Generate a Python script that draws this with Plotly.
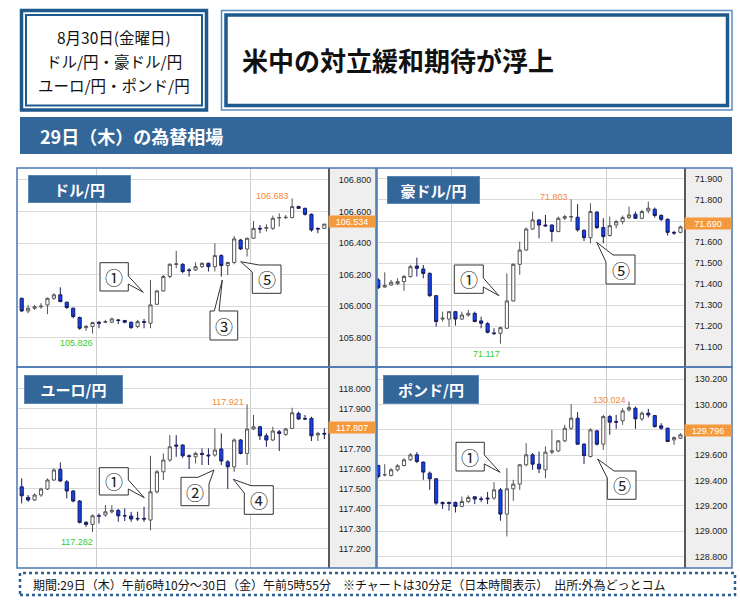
import plotly.graph_objects as go

W, H = 740, 604

# ---------------- data (30-minute bars, 29日 06:00 → 30日 05:30) ----------------
bar_index = list(range(48))

usd_open = [106.049, 105.969, 105.986, 105.995, 106.007, 106.049, 106.071, 106.024, 105.986, 105.927,
            105.863, 105.870, 105.897, 105.897, 105.897, 105.912, 105.908, 105.897, 105.870, 105.901,
            105.891, 106.011, 106.096, 106.187, 106.265, 106.265, 106.229, 106.229, 106.250, 106.271,
            106.250, 106.320, 106.257, 106.276, 106.419, 106.362, 106.430, 106.493, 106.493, 106.493,
            106.559, 106.561, 106.561, 106.631, 106.620, 106.582, 106.493, 106.493]
usd_high = [106.054, 106.007, 106.007, 106.018, 106.054, 106.081, 106.119, 106.028, 105.990, 105.933,
            105.880, 105.901, 105.906, 105.912, 105.927, 105.918, 105.912, 105.901, 105.912, 105.918,
            106.166, 106.102, 106.197, 106.271, 106.350, 106.271, 106.240, 106.278, 106.278, 106.276,
            106.398, 106.328, 106.282, 106.445, 106.426, 106.434, 106.540, 106.514, 106.519, 106.574,
            106.588, 106.578, 106.683, 106.637, 106.624, 106.588, 106.498, 106.514]
usd_low = [105.961, 105.954, 105.975, 105.982, 105.948, 106.039, 106.024, 105.982, 105.923, 105.849,
           105.842, 105.826, 105.859, 105.891, 105.891, 105.885, 105.891, 105.855, 105.859, 105.859,
           105.859, 106.007, 106.092, 106.176, 106.240, 106.208, 106.187, 106.223, 106.240, 106.219,
           106.219, 106.187, 106.197, 106.265, 106.356, 106.314, 106.426, 106.462, 106.472, 106.483,
           106.504, 106.553, 106.557, 106.616, 106.574, 106.472, 106.462, 106.489]
usd_close = [105.969, 105.986, 105.995, 105.999, 106.049, 106.071, 106.028, 105.990, 105.933, 105.859,
             105.870, 105.895, 105.891, 105.901, 105.918, 105.908, 105.897, 105.863, 105.901, 105.897,
             106.007, 106.096, 106.187, 106.265, 106.267, 106.219, 106.225, 106.250, 106.271, 106.250,
             106.320, 106.257, 106.276, 106.426, 106.362, 106.430, 106.493, 106.489, 106.498, 106.557,
             106.561, 106.563, 106.631, 106.620, 106.582, 106.483, 106.489, 106.520]

aud_open = [71.420, 71.386, 71.396, 71.402, 71.412, 71.436, 71.486, 71.472, 71.451, 71.345,
            71.234, 71.234, 71.269, 71.234, 71.253, 71.261, 71.225, 71.212, 71.168, 71.166,
            71.190, 71.320, 71.494, 71.562, 71.662, 71.705, 71.681, 71.681, 71.650, 71.713,
            71.719, 71.718, 71.655, 71.621, 71.742, 71.669, 71.631, 71.681, 71.697, 71.716,
            71.732, 71.713, 71.748, 71.756, 71.726, 71.708, 71.646, 71.646]
aud_high = [71.428, 71.456, 71.420, 71.428, 71.444, 71.491, 71.526, 71.491, 71.456, 71.348,
            71.269, 71.272, 71.272, 71.269, 71.277, 71.269, 71.245, 71.219, 71.190, 71.198,
            71.451, 71.499, 71.602, 71.669, 71.745, 71.710, 71.729, 71.684, 71.721, 71.729,
            71.803, 71.780, 71.662, 71.784, 71.748, 71.713, 71.721, 71.705, 71.726, 71.768,
            71.745, 71.753, 71.792, 71.764, 71.732, 71.713, 71.653, 71.678]
aud_low = [71.377, 71.383, 71.393, 71.396, 71.368, 71.431, 71.436, 71.428, 71.340, 71.198,
           71.222, 71.198, 71.203, 71.230, 71.245, 71.219, 71.190, 71.166, 71.158, 71.117,
           71.187, 71.317, 71.444, 71.558, 71.658, 71.618, 71.673, 71.602, 71.646, 71.705,
           71.697, 71.650, 71.605, 71.594, 71.662, 71.594, 71.626, 71.665, 71.684, 71.710,
           71.710, 71.708, 71.737, 71.716, 71.700, 71.631, 71.634, 71.642]
aud_close = [71.383, 71.393, 71.409, 71.412, 71.436, 71.483, 71.475, 71.451, 71.345, 71.222,
             71.238, 71.269, 71.234, 71.253, 71.261, 71.222, 71.214, 71.171, 71.165, 71.193,
             71.320, 71.494, 71.562, 71.662, 71.705, 71.681, 71.677, 71.650, 71.713, 71.721,
             71.721, 71.658, 71.621, 71.745, 71.669, 71.626, 71.678, 71.697, 71.716, 71.729,
             71.713, 71.745, 71.761, 71.726, 71.708, 71.646, 71.643, 71.672]

eur_open = [117.508, 117.455, 117.442, 117.467, 117.497, 117.542, 117.595, 117.533, 117.487, 117.437,
            117.330, 117.320, 117.363, 117.367, 117.383, 117.390, 117.363, 117.362, 117.350, 117.350,
            117.342, 117.483, 117.583, 117.642, 117.717, 117.717, 117.663, 117.658, 117.675, 117.667,
            117.667, 117.697, 117.633, 117.608, 117.742, 117.675, 117.797, 117.808, 117.763, 117.742,
            117.783, 117.770, 117.800, 117.875, 117.850, 117.850, 117.767, 117.775]
eur_high = [117.550, 117.467, 117.475, 117.503, 117.550, 117.600, 117.630, 117.542, 117.492, 117.442,
            117.337, 117.370, 117.375, 117.417, 117.417, 117.397, 117.400, 117.383, 117.383, 117.408,
            117.663, 117.592, 117.675, 117.767, 117.767, 117.720, 117.670, 117.683, 117.700, 117.700,
            117.800, 117.775, 117.642, 117.750, 117.747, 117.921, 117.867, 117.813, 117.775, 117.808,
            117.792, 117.803, 117.903, 117.883, 117.867, 117.858, 117.783, 117.800]
eur_low = [117.425, 117.433, 117.437, 117.458, 117.492, 117.537, 117.533, 117.450, 117.430, 117.325,
           117.308, 117.282, 117.325, 117.358, 117.375, 117.333, 117.337, 117.333, 117.337, 117.333,
           117.290, 117.475, 117.542, 117.633, 117.658, 117.653, 117.597, 117.625, 117.617, 117.617,
           117.658, 117.617, 117.497, 117.583, 117.670, 117.617, 117.792, 117.742, 117.708, 117.737,
           117.687, 117.763, 117.797, 117.842, 117.842, 117.737, 117.737, 117.747]
eur_close = [117.463, 117.442, 117.467, 117.497, 117.542, 117.592, 117.537, 117.487, 117.437, 117.330,
             117.320, 117.363, 117.362, 117.383, 117.390, 117.363, 117.363, 117.347, 117.348, 117.347,
             117.483, 117.583, 117.642, 117.708, 117.712, 117.663, 117.660, 117.675, 117.670, 117.663,
             117.692, 117.637, 117.608, 117.742, 117.675, 117.797, 117.808, 117.763, 117.742, 117.787,
             117.775, 117.797, 117.878, 117.847, 117.847, 117.763, 117.775, 117.772]

gbp_open = [129.518, 129.445, 129.440, 129.484, 129.518, 129.563, 129.603, 129.545, 129.458, 129.413,
            129.226, 129.226, 129.226, 129.195, 129.234, 129.271, 129.255, 129.261, 129.261, 129.326,
            129.134, 129.334, 129.371, 129.524, 129.603, 129.529, 129.484, 129.624, 129.634, 129.713,
            129.813, 129.892, 129.687, 129.590, 129.792, 129.687, 129.905, 129.866, 129.871, 129.958,
            129.971, 129.887, 129.932, 129.913, 129.832, 129.813, 129.721, 129.734]
gbp_high = [129.524, 129.529, 129.497, 129.529, 129.576, 129.616, 129.624, 129.550, 129.471, 129.418,
            129.234, 129.234, 129.234, 129.274, 129.282, 129.274, 129.274, 129.308, 129.387, 129.340,
            129.497, 129.405, 129.529, 129.695, 129.616, 129.629, 129.669, 129.800, 129.721, 129.840,
            130.003, 129.940, 129.695, 129.813, 129.800, 129.918, 129.918, 129.918, 129.971, 130.024,
            129.984, 129.945, 129.966, 129.918, 129.853, 129.818, 129.747, 129.774]
gbp_low = [129.418, 129.432, 129.432, 129.471, 129.511, 129.555, 129.537, 129.405, 129.326, 129.208,
           129.176, 129.161, 129.147, 129.187, 129.221, 129.213, 129.229, 129.213, 129.247, 129.082,
           128.958, 129.239, 129.326, 129.511, 129.484, 129.458, 129.418, 129.608, 129.624, 129.703,
           129.800, 129.682, 129.529, 129.582, 129.676, 129.642, 129.761, 129.808, 129.840, 129.945,
           129.808, 129.871, 129.897, 129.818, 129.800, 129.703, 129.682, 129.729]
gbp_close = [129.432, 129.445, 129.484, 129.516, 129.563, 129.603, 129.550, 129.466, 129.413, 129.221,
             129.216, 129.218, 129.195, 129.234, 129.266, 129.253, 129.250, 129.255, 129.326, 129.134,
             129.334, 129.371, 129.524, 129.603, 129.529, 129.492, 129.624, 129.634, 129.713, 129.813,
             129.892, 129.687, 129.597, 129.800, 129.687, 129.905, 129.861, 129.861, 129.950, 129.976,
             129.887, 129.932, 129.918, 129.826, 129.813, 129.708, 129.740, 129.761]

# price-scale ticks; a blank label is one hidden under the current-price tag
usd_ticks = [105.8, 106.0, 106.2, 106.4, 106.6, 106.8]
usd_ticklabels = ["105.800", "106.000", "106.200", "106.400", "106.600", "106.800"]
aud_ticks = [71.1, 71.2, 71.3, 71.4, 71.5, 71.6, 71.7, 71.8, 71.9]
aud_ticklabels = ["71.100", "71.200", "71.300", "71.400", "71.500", "71.600", "", "71.800", "71.900"]
eur_ticks = [117.2, 117.3, 117.4, 117.5, 117.6, 117.7, 117.8, 117.9, 118.0]
eur_ticklabels = ["117.200", "117.300", "117.400", "117.500", "117.600", "117.700", "", "117.900", "118.000"]
gbp_ticks = [128.8, 129.0, 129.2, 129.4, 129.6, 129.8, 130.0, 130.2]
gbp_ticklabels = ["128.800", "129.000", "129.200", "129.400", "129.600", "", "130.000", "130.200"]

pair_names = ["ドル/円", "豪ドル/円", "ユーロ/円", "ポンド/円"]
last_prices = ["106.534", "71.690", "117.807", "129.796"]
high_marks = [(42, 106.683), (30, 71.803), (35, 117.921), (39, 130.024)]
low_marks = [(11, 105.826), (19, 71.117), (11, 117.282), None]

# ---------------- layout helpers ----------------
def X(p):
    return p / W


def Y(p):
    return 1 - p / H


FRAME = "#4a78b0"
BOXBLUE = "#336699"
JP = "Noto Sans CJK JP"

panels = [
    dict(o=usd_open, h=usd_high, l=usd_low, c=usd_close, ticks=usd_ticks, tl=usd_ticklabels,
         yr=[105.613, 106.876], xr=[-0.73, 47.57], grid=[11.69, 35.6],
         px=(17, 328, 376), py=(168, 367), lab=(79.5, 188.7, 101, 26)),
    dict(o=aud_open, h=aud_high, l=aud_low, c=aud_close, ticks=aud_ticks, tl=aud_ticklabels,
         yr=[71.006, 71.952], xr=[-0.2, 47.55], grid=[11.46, 35.42],
         px=(377, 684, 732), py=(168, 367), lab=(433.8, 190.3, 91, 26)),
    dict(o=eur_open, h=eur_high, l=eur_low, c=eur_close, ticks=eur_ticks, tl=eur_ticklabels,
         yr=[117.102, 118.107], xr=[-0.73, 47.57], grid=[11.69, 35.6],
         px=(17, 328, 376), py=(367, 568), lab=(73.5, 389, 97, 27)),
    dict(o=gbp_open, h=gbp_high, l=gbp_low, c=gbp_close, ticks=gbp_ticks, tl=gbp_ticklabels,
         yr=[128.708, 130.297], xr=[-0.2, 47.55], grid=[11.46, 35.42],
         px=(377, 684, 732), py=(367, 568), lab=(431, 389.5, 94, 27)),
]

fig = go.Figure()
shapes = []
annotations = []
layout_axes = {}

for k, p in enumerate(panels):
    n = "" if k == 0 else str(k + 1)
    xa, ya = "x" + n, "y" + n
    fig.add_trace(go.Candlestick(
        x=bar_index, open=p["o"], high=p["h"], low=p["l"], close=p["c"],
        xaxis=xa, yaxis=ya, showlegend=False, hoverinfo="skip",
        increasing=dict(fillcolor="#ffffff", line=dict(color="#555555", width=1)),
        decreasing=dict(fillcolor="#0d43f2", line=dict(color="#1c1c5c", width=1)),
        whiskerwidth=0,
    ))
    x0, x1, x2 = p["px"]
    y0, y1 = p["py"]
    layout_axes["xaxis" + n] = dict(
        domain=[X(x0), X(x1)], range=p["xr"], anchor=ya,
        tickvals=p["grid"], showticklabels=False, ticks="",
        showgrid=True, gridcolor="#cccccc", gridwidth=1,
        zeroline=False, showline=False, fixedrange=True,
        rangeslider=dict(visible=False))
    layout_axes["yaxis" + n] = dict(
        domain=[Y(y1), Y(y0)], range=p["yr"], anchor=xa, side="right",
        tickvals=p["ticks"], ticktext=p["tl"],
        showgrid=True, gridcolor="#d9d9d9", gridwidth=1,
        showline=True, linecolor="#5a5a5a", linewidth=2,
        ticks="outside", ticklen=7, tickcolor="rgba(0,0,0,0)",
        tickfont=dict(size=9, color="#222222", family="Liberation Sans"),
        zeroline=False, fixedrange=True)
    # grey price-scale area
    shapes.append(dict(type="rect", xref="paper", yref="paper",
                       x0=X(x1), x1=X(x2), y0=Y(y1), y1=Y(y0),
                       fillcolor="#efefef", line=dict(width=0), layer="below"))
    # panel frame
    shapes.append(dict(type="rect", xref="paper", yref="paper",
                       x0=X(x0), x1=X(x2), y0=Y(y1), y1=Y(y0),
                       fillcolor="rgba(0,0,0,0)", line=dict(color=FRAME, width=1.5), layer="above"))
    # pair label box
    cx, cy, bw, bh = p["lab"]
    annotations.append(dict(xref="paper", yref="paper", x=X(cx), y=Y(cy),
                            xanchor="center", yanchor="middle",
                            text="<b>" + pair_names[k] + "</b>", showarrow=False,
                            width=bw, height=bh, bgcolor=BOXBLUE, bordercolor="#5d86b3",
                            borderwidth=1, borderpad=0,
                            font=dict(size=15, color="white", family=JP)))
    # current price tag
    annotations.append(dict(xref="paper", yref=ya, x=X((x1 + x2) / 2), y=float(last_prices[k]),
                            text=last_prices[k], showarrow=False, width=46, height=11,
                            bgcolor="#f59a3c", borderpad=0, xanchor="center", yanchor="middle",
                            font=dict(size=9, color="white", family="Liberation Sans")))
    # high / low labels
    hx, hy = high_marks[k]
    annotations.append(dict(xref=xa, yref=ya, x=hx, y=hy, text=f"{hy:.3f}", showarrow=False,
                            xanchor="right", yanchor="middle", xshift=-1, yshift=2,
                            font=dict(size=9, color="#f5883a", family="Liberation Sans")))
    if low_marks[k] is not None:
        lx, ly = low_marks[k]
        annotations.append(dict(xref=xa, yref=ya, x=lx, y=ly, text=f"{ly:.3f}", showarrow=False,
                                xanchor="right", yanchor="top", xshift=2, yshift=-3,
                                font=dict(size=9, color="#33cc33", family="Liberation Sans")))


def callout(pts, label, cx, cy):
    path = "M " + " L ".join(f"{X(a):.5f},{Y(b):.5f}" for a, b in pts) + " Z"
    shapes.append(dict(type="path", xref="paper", yref="paper", path=path,
                       fillcolor="white", line=dict(color="#333333", width=1), layer="above"))
    annotations.append(dict(xref="paper", yref="paper", x=X(cx), y=Y(cy), text=label,
                            xanchor="center", yanchor="middle",
                            showarrow=False, font=dict(size=18, color="#222222", family=JP)))


# chart 1 (ドル/円)
callout([(100, 262.7), (128.3, 262.7), (128.3, 276), (143.3, 292.3), (128.3, 284), (128.3, 291), (100, 291)], "①", 114.2, 276.9)
callout([(210, 311), (214.3, 311), (222.3, 280), (219, 311), (237.7, 311), (237.7, 340), (210, 340)], "③", 223.9, 325.5)
callout([(252.3, 272), (240.7, 261.7), (259, 265), (281, 265), (281, 293.3), (252.3, 293.3)], "⑤", 266.7, 279.2)
# chart 2 (豪ドル/円)
callout([(454.3, 265), (483.3, 265), (483.3, 278), (499, 295.7), (483.3, 287), (483.3, 293.3), (454.3, 293.3)], "①", 468.8, 279.2)
callout([(606, 262), (596.7, 242.3), (613, 255), (635, 255), (635, 284), (606, 284)], "⑤", 620.5, 269.5)
# chart 3 (ユーロ/円)
callout([(99.3, 467.7), (128.3, 467.7), (128.3, 480), (144.3, 497.7), (128.3, 489), (128.3, 495), (99.3, 495)], "①", 113.8, 481.4)
callout([(181, 477.3), (198, 477.3), (214, 470), (209, 484), (209, 505.7), (181, 505.7)], "②", 195, 491.5)
callout([(244.3, 493), (233.3, 479.3), (251, 485.7), (273.3, 485.7), (273.3, 514.3), (244.3, 514.3)], "④", 258.8, 500)
# chart 4 (ポンド/円)
callout([(456, 442.3), (484.3, 442.3), (484.3, 455), (500, 472.3), (484.3, 464), (484.3, 471), (456, 471)], "①", 470.2, 456.7)
callout([(607.3, 478), (597.7, 459), (614, 471), (636, 471), (636, 499.3), (607.3, 499.3)], "⑤", 621.7, 485.2)

# ---------------- header / footer ----------------
def rect(x0, y0, x1, y1, color, width, fill="rgba(0,0,0,0)", dash=None):
    line = dict(color=color, width=width)
    if dash:
        line["dash"] = dash
    shapes.append(dict(type="rect", xref="paper", yref="paper", x0=X(x0), x1=X(x1),
                       y0=Y(y1), y1=Y(y0), fillcolor=fill, line=line, layer="above"))


rect(21.5, 10.5, 206.5, 110, "#1e5a8e", 3.5)
rect(26, 15, 202, 105.5, "#1e5a8e", 2)
rect(221.5, 10.5, 732, 110, "#5a8cc0", 1.5)
rect(226, 15, 727.5, 105.5, "#1e5a8e", 3.5)
rect(20, 117, 732, 154, BOXBLUE, 0, fill=BOXBLUE)
rect(20, 573, 735, 595, "#2d5e96", 2.5, dash="dot")

for txt, yy in [("8月30日(金曜日)", 37), ("ドル/円・豪ドル/円", 61), ("ユーロ/円・ポンド/円", 85)]:
    annotations.append(dict(xref="paper", yref="paper", x=X(114), y=Y(yy), text=txt, showarrow=False,
                            xanchor="center", yanchor="middle",
                            font=dict(size=15.5, color="#111111", family=JP)))
annotations.append(dict(xref="paper", yref="paper", x=X(240), y=Y(60), xanchor="left", yanchor="middle",
                        text="<b>米中の対立緩和期待が浮上</b>", showarrow=False,
                        font=dict(size=26, color="#111111", family=JP)))
annotations.append(dict(xref="paper", yref="paper", x=X(38), y=Y(136), xanchor="left", yanchor="middle",
                        text="<b>29日（木）の為替相場</b>", showarrow=False,
                        font=dict(size=18, color="white", family=JP)))
annotations.append(dict(xref="paper", yref="paper", x=X(31), y=Y(584.5), xanchor="left", yanchor="middle",
                        text="期間:29日（木）午前6時10分～30日（金）午前5時55分　※チャートは30分足（日本時間表示）　出所:外為どっとコム",
                        showarrow=False, font=dict(size=12, color="#111111", family=JP)))

fig.update_layout(
    width=W, height=H, margin=dict(l=0, r=0, t=0, b=0),
    paper_bgcolor="white", plot_bgcolor="white", showlegend=False,
    shapes=shapes, annotations=annotations, **layout_axes,
)

fig.write_html("out.html", config={"displayModeBar": False},
               post_script="document.body.style.margin='0';document.body.style.padding='0';")
